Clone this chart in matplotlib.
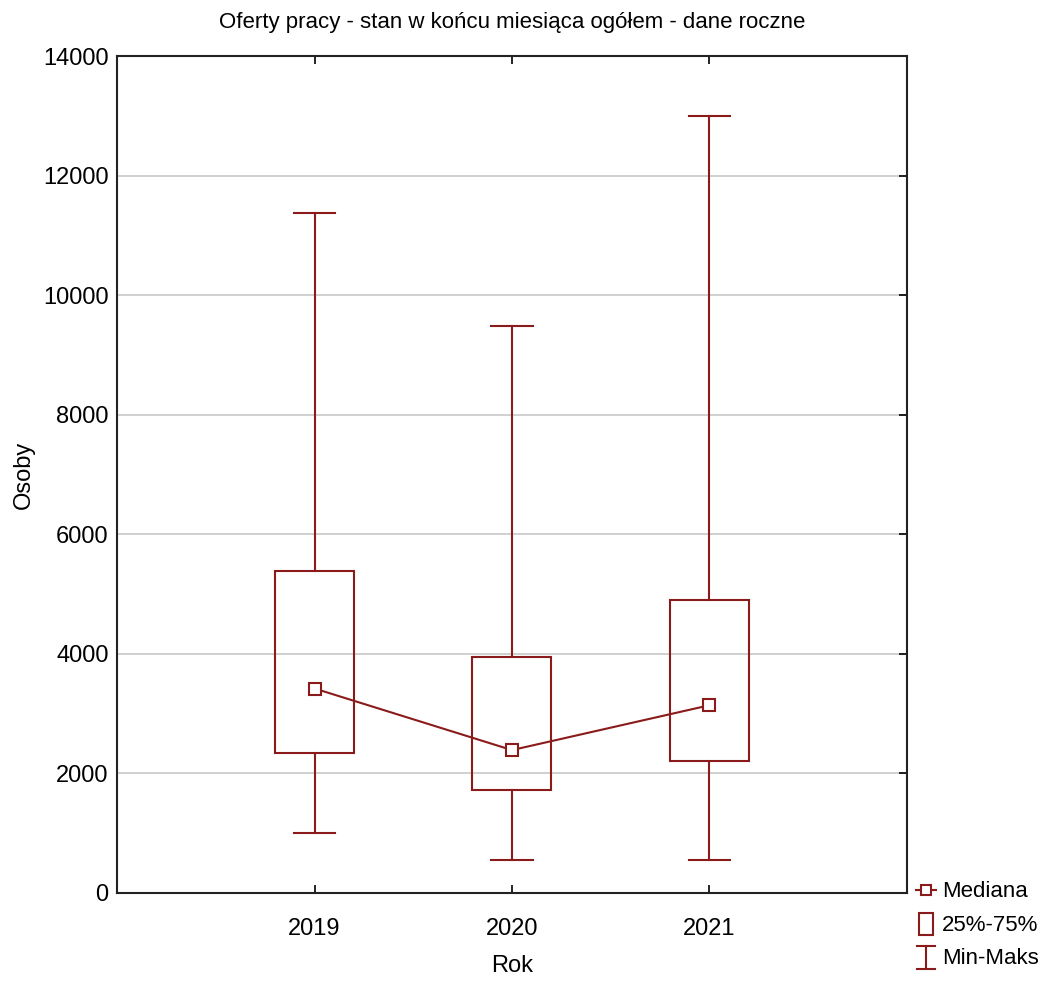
import matplotlib
matplotlib.use("Agg")
import matplotlib.pyplot as plt
from matplotlib.lines import Line2D
from matplotlib.patches import Rectangle
from matplotlib.legend_handler import HandlerBase

plt.rcParams['font.family'] = ['Liberation Sans', 'DejaVu Sans']

years = ["2019", "2020", "2021"]
mins = [1000, 550, 550]
q1 = [2340, 1720, 2210]
medians = [3420, 2390, 3140]
q3 = [5390, 3950, 4900]
maxs = [11370, 9480, 13000]

color = "#8B1A1A"
fig = plt.figure(figsize=(10.42, 9.83), dpi=100)
ax = fig.add_axes([0.1123, 0.0916, 0.7581, 0.8514])

pos = list(range(1, len(years) + 1))
bw = 0.4
cw = 0.21
for x, lo, a, m, b, hi in zip(pos, mins, q1, medians, q3, maxs):
    ax.add_patch(Rectangle((x - bw / 2, a), bw, b - a, fill=False, edgecolor=color, lw=1.5, zorder=3))
    ax.plot([x, x], [b, hi], color=color, lw=1.5, zorder=3)
    ax.plot([x, x], [lo, a], color=color, lw=1.5, zorder=3)
    ax.plot([x - cw / 2, x + cw / 2], [hi, hi], color=color, lw=1.5, zorder=3)
    ax.plot([x - cw / 2, x + cw / 2], [lo, lo], color=color, lw=1.5, zorder=3)
ax.plot(pos, medians, color=color, lw=1.5, marker="s", markersize=8,
        markerfacecolor="white", markeredgecolor=color, markeredgewidth=1.5, zorder=4)

ax.set_xlim(0, 4)
ax.set_ylim(0, 14000)
ax.set_yticks(range(0, 14001, 2000))
ax.set_xticks(pos)
ax.set_xticklabels(years)
ax.yaxis.grid(True, color="#c8c8c8", lw=1.2)
ax.set_axisbelow(True)
ax.tick_params(direction="in", top=True, right=True, length=6, width=1.2, labelsize=17, colors="black")
ax.tick_params(axis="y", left=False, pad=6)
ax.tick_params(axis="x", pad=18)
for s in ax.spines.values():
    s.set_linewidth(1.5)
    s.set_color("#222222")

ax.set_title("Oferty pracy - stan w końcu miesiąca ogółem - dane roczne", fontsize=16, pad=20)
ax.set_xlabel("Rok", fontsize=17, labelpad=11)
ax.set_ylabel("Osoby", fontsize=17, labelpad=6)


class HandlerMed(HandlerBase):
    def create_artists(self, legend, orig, xd, yd, w, h, fontsize, trans):
        cy = yd + h / 2
        l = Line2D([xd, xd + w], [cy, cy], color=color, lw=1.5, transform=trans)
        m = Line2D([xd + w / 2], [cy], marker="s", markersize=7, markerfacecolor="white",
                   markeredgecolor=color, markeredgewidth=1.5, color=color, transform=trans)
        return [l, m]


class HandlerMinMax(HandlerBase):
    def create_artists(self, legend, orig, xd, yd, w, h, fontsize, trans):
        cx = xd + w / 2
        top, bot = yd + 1.15 * h, yd - 0.35 * h
        l1 = Line2D([cx, cx], [bot, top], color=color, lw=1.5, transform=trans)
        l2 = Line2D([cx - w * 0.45, cx + w * 0.45], [top, top], color=color, lw=1.5, transform=trans)
        l3 = Line2D([cx - w * 0.45, cx + w * 0.45], [bot, bot], color=color, lw=1.5, transform=trans)
        return [l1, l2, l3]


class HandlerBox(HandlerBase):
    def create_artists(self, legend, orig, xd, yd, w, h, fontsize, trans):
        r = Rectangle((xd + w * 0.15, yd - 0.3 * h), w * 0.7, h * 1.45, fill=False,
                      edgecolor=color, lw=1.5, transform=trans)
        return [r]


h_med = Line2D([], [], color=color)
h_box = Rectangle((0, 0), 1, 1)
h_mm = Line2D([], [], color=color, ls="--")
leg = fig.legend([h_med, h_box, h_mm], ["Mediana", "25%-75%", "Min-Maks"],
                 loc="upper left", bbox_to_anchor=(0.875, 0.108), frameon=False,
                 fontsize=16, handlelength=0.9, handletextpad=0.25, labelspacing=0.55,
                 borderpad=0.2, borderaxespad=0.0,
                 handler_map={h_med: HandlerMed(), h_box: HandlerBox(), h_mm: HandlerMinMax()})

fig.savefig("out.png", dpi=100, facecolor="white")
